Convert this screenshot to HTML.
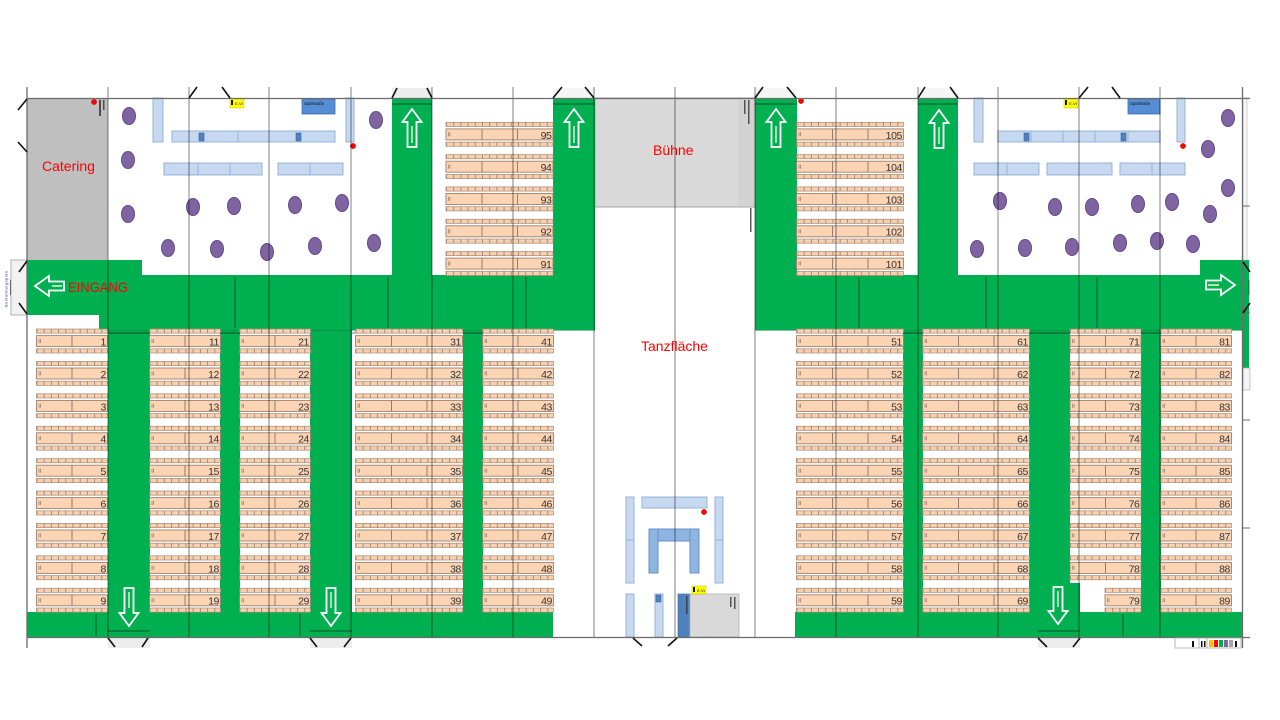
<!DOCTYPE html>
<html><head><meta charset="utf-8"><style>html,body{margin:0;padding:0;background:#fff}svg{display:block}</style></head>
<body>
<svg width="1280" height="720" viewBox="0 0 1280 720">
<defs>
<pattern id="tk" width="7.2" height="6" patternUnits="userSpaceOnUse"><rect width="7.2" height="6" fill="#F7D0AF"/><rect x="0" y="0" width="0.9" height="6" fill="#A4846F"/></pattern>
<g id="T2">
<rect x="0" y="0" width="71" height="4.2" fill="url(#tk)" stroke="#A88B78" stroke-width=".7"/>
<rect x="0" y="6.6" width="71" height="11" fill="#FBD4B4" stroke="#9C8070" stroke-width=".9"/>
<line x1="35.5" y1="6.6" x2="35.5" y2="17.6" stroke="#8C7262" stroke-width=".9"/>
<path d="M2.5,10v4M4,10v4" stroke="#7a6a60" stroke-width=".6"/>
<rect x="0" y="19.8" width="71" height="4.2" fill="url(#tk)" stroke="#A88B78" stroke-width=".7"/>
</g>
<g id="T3">
<rect x="0" y="0" width="107" height="4.2" fill="url(#tk)" stroke="#A88B78" stroke-width=".7"/>
<rect x="0" y="6.6" width="107" height="11" fill="#FBD4B4" stroke="#9C8070" stroke-width=".9"/>
<line x1="36" y1="6.6" x2="36" y2="17.6" stroke="#8C7262" stroke-width=".9"/>
<line x1="71.5" y1="6.6" x2="71.5" y2="17.6" stroke="#8C7262" stroke-width=".9"/>
<path d="M2.5,10v4M4,10v4" stroke="#7a6a60" stroke-width=".6"/>
<rect x="0" y="19.8" width="107" height="4.2" fill="url(#tk)" stroke="#A88B78" stroke-width=".7"/>
</g>
<g id="T1">
<rect x="0" y="0" width="36" height="4.2" fill="url(#tk)" stroke="#A88B78" stroke-width=".7"/>
<rect x="0" y="6.6" width="36" height="11" fill="#FBD4B4" stroke="#9C8070" stroke-width=".9"/>
<path d="M2.5,10v4M4,10v4" stroke="#7a6a60" stroke-width=".6"/>
<rect x="0" y="19.8" width="36" height="4.2" fill="url(#tk)" stroke="#A88B78" stroke-width=".7"/>
</g>
</defs>

<rect width="1280" height="720" fill="#fff"/>

<!-- gray areas -->
<rect x="27" y="98" width="81" height="162" fill="#BFBFBF"/>
<rect x="595" y="98" width="160" height="109" fill="#D9D9D9" stroke="#A6A6A6" stroke-width="1"/>
<rect x="738" y="99" width="16" height="107" fill="#D3D3D3"/>

<!-- green -->
<g fill="#00B050">
<rect x="27" y="260" width="115" height="55"/>
<rect x="99" y="275" width="496" height="55"/>
<rect x="392" y="98" width="40" height="177"/>
<rect x="553" y="98" width="42" height="232"/>
<rect x="108" y="330" width="42" height="282"/>
<rect x="220" y="330" width="20" height="282"/>
<rect x="310" y="330" width="42" height="282"/>
<rect x="463" y="330" width="20" height="282"/>
<rect x="27" y="612" width="526" height="25.5"/>
<rect x="755" y="98" width="42" height="232"/>
<rect x="918" y="98" width="40" height="177"/>
<rect x="755" y="275" width="487" height="55"/>
<rect x="1200" y="260" width="42" height="55"/>
<rect x="1242" y="260" width="7" height="108"/>
<rect x="903" y="330" width="20" height="282"/>
<rect x="1029" y="330" width="41" height="282"/>
<rect x="1141" y="330" width="20" height="282"/>
<rect x="1029" y="583" width="51" height="29"/>
<rect x="795" y="612" width="447" height="25.5"/>
</g>
<path d="M99,330.5H595M755,330.5H1242" stroke="#0a6b35" stroke-width=".8" opacity=".6"/>

<!-- door boxes -->
<rect x="11" y="260" width="16" height="55" fill="#F2F2F2" stroke="#A0A0A0" stroke-width=".8"/>
<rect x="1243" y="368" width="7" height="22" fill="#F4F4F4" stroke="#B0B0B0" stroke-width=".7"/>
<rect x="1243" y="98" width="4" height="162" fill="#F6F6F6" stroke="#B8B8B8" stroke-width=".6"/>
<g fill="#EDEDED">
<rect x="108" y="638" width="42" height="10"/>
<rect x="310" y="638" width="42" height="10"/>
<rect x="1038" y="638" width="42" height="10"/>
<rect x="392" y="88" width="40" height="10"/>
<rect x="553" y="88" width="42" height="10" fill="#F5F5F5"/>
<rect x="755" y="88" width="42" height="10" fill="#F5F5F5"/>
<rect x="918" y="88" width="40" height="10" fill="#F5F5F5"/>
</g>
<text x="0" y="0" transform="translate(7.5,307) rotate(-90)" font-family="Liberation Sans, sans-serif" font-size="4" fill="#1F3D7A" textLength="36">Bestuhlungsplan</text>

<!-- tables -->
<g font-family="Liberation Sans, sans-serif" font-size="10.5" fill="#333" text-anchor="end" letter-spacing="-0.4">
<g transform="translate(36.5,0)">
<use href="#T2" y="329"/><use href="#T2" y="361.4"/><use href="#T2" y="393.8"/><use href="#T2" y="426.2"/><use href="#T2" y="458.6"/><use href="#T2" y="491"/><use href="#T2" y="523.4"/><use href="#T2" y="555.8"/><use href="#T2" y="588.2"/>
<text x="69.5" y="345.5">1</text><text x="69.5" y="377.9">2</text><text x="69.5" y="410.3">3</text><text x="69.5" y="442.7">4</text><text x="69.5" y="475.1">5</text><text x="69.5" y="507.5">6</text><text x="69.5" y="539.9">7</text><text x="69.5" y="572.3">8</text><text x="69.5" y="604.7">9</text>
</g>
<g transform="translate(149.5,0)">
<use href="#T2" y="329"/><use href="#T2" y="361.4"/><use href="#T2" y="393.8"/><use href="#T2" y="426.2"/><use href="#T2" y="458.6"/><use href="#T2" y="491"/><use href="#T2" y="523.4"/><use href="#T2" y="555.8"/><use href="#T2" y="588.2"/>
<text x="69.5" y="345.5">11</text><text x="69.5" y="377.9">12</text><text x="69.5" y="410.3">13</text><text x="69.5" y="442.7">14</text><text x="69.5" y="475.1">15</text><text x="69.5" y="507.5">16</text><text x="69.5" y="539.9">17</text><text x="69.5" y="572.3">18</text><text x="69.5" y="604.7">19</text>
</g>
<g transform="translate(239.5,0)">
<use href="#T2" y="329"/><use href="#T2" y="361.4"/><use href="#T2" y="393.8"/><use href="#T2" y="426.2"/><use href="#T2" y="458.6"/><use href="#T2" y="491"/><use href="#T2" y="523.4"/><use href="#T2" y="555.8"/><use href="#T2" y="588.2"/>
<text x="69.5" y="345.5">21</text><text x="69.5" y="377.9">22</text><text x="69.5" y="410.3">23</text><text x="69.5" y="442.7">24</text><text x="69.5" y="475.1">25</text><text x="69.5" y="507.5">26</text><text x="69.5" y="539.9">27</text><text x="69.5" y="572.3">28</text><text x="69.5" y="604.7">29</text>
</g>
<g transform="translate(355.5,0)">
<use href="#T3" y="329"/><use href="#T3" y="361.4"/><use href="#T3" y="393.8"/><use href="#T3" y="426.2"/><use href="#T3" y="458.6"/><use href="#T3" y="491"/><use href="#T3" y="523.4"/><use href="#T3" y="555.8"/><use href="#T3" y="588.2"/>
<text x="105.5" y="345.5">31</text><text x="105.5" y="377.9">32</text><text x="105.5" y="410.3">33</text><text x="105.5" y="442.7">34</text><text x="105.5" y="475.1">35</text><text x="105.5" y="507.5">36</text><text x="105.5" y="539.9">37</text><text x="105.5" y="572.3">38</text><text x="105.5" y="604.7">39</text>
</g>
<g transform="translate(482.5,0)">
<use href="#T2" y="329"/><use href="#T2" y="361.4"/><use href="#T2" y="393.8"/><use href="#T2" y="426.2"/><use href="#T2" y="458.6"/><use href="#T2" y="491"/><use href="#T2" y="523.4"/><use href="#T2" y="555.8"/><use href="#T2" y="588.2"/>
<text x="69.5" y="345.5">41</text><text x="69.5" y="377.9">42</text><text x="69.5" y="410.3">43</text><text x="69.5" y="442.7">44</text><text x="69.5" y="475.1">45</text><text x="69.5" y="507.5">46</text><text x="69.5" y="539.9">47</text><text x="69.5" y="572.3">48</text><text x="69.5" y="604.7">49</text>
</g>
<g transform="translate(446,0)">
<use href="#T3" y="122.3"/><use href="#T3" y="154.6"/><use href="#T3" y="186.9"/><use href="#T3" y="219.2"/><use href="#T3" y="251.5"/>
<text x="105.5" y="138.8">95</text><text x="105.5" y="171.1">94</text><text x="105.5" y="203.4">93</text><text x="105.5" y="235.7">92</text><text x="105.5" y="268">91</text>
</g>
<g transform="translate(796.5,0)">
<use href="#T3" y="122.3"/><use href="#T3" y="154.6"/><use href="#T3" y="186.9"/><use href="#T3" y="219.2"/><use href="#T3" y="251.5"/>
<text x="105.5" y="138.8">105</text><text x="105.5" y="171.1">104</text><text x="105.5" y="203.4">103</text><text x="105.5" y="235.7">102</text><text x="105.5" y="268">101</text>
</g>
<g transform="translate(796.5,0)">
<use href="#T3" y="329"/><use href="#T3" y="361.4"/><use href="#T3" y="393.8"/><use href="#T3" y="426.2"/><use href="#T3" y="458.6"/><use href="#T3" y="491"/><use href="#T3" y="523.4"/><use href="#T3" y="555.8"/><use href="#T3" y="588.2"/>
<text x="105.5" y="345.5">51</text><text x="105.5" y="377.9">52</text><text x="105.5" y="410.3">53</text><text x="105.5" y="442.7">54</text><text x="105.5" y="475.1">55</text><text x="105.5" y="507.5">56</text><text x="105.5" y="539.9">57</text><text x="105.5" y="572.3">58</text><text x="105.5" y="604.7">59</text>
</g>
<g transform="translate(922.5,0)">
<use href="#T3" y="329"/><use href="#T3" y="361.4"/><use href="#T3" y="393.8"/><use href="#T3" y="426.2"/><use href="#T3" y="458.6"/><use href="#T3" y="491"/><use href="#T3" y="523.4"/><use href="#T3" y="555.8"/><use href="#T3" y="588.2"/>
<text x="105.5" y="345.5">61</text><text x="105.5" y="377.9">62</text><text x="105.5" y="410.3">63</text><text x="105.5" y="442.7">64</text><text x="105.5" y="475.1">65</text><text x="105.5" y="507.5">66</text><text x="105.5" y="539.9">67</text><text x="105.5" y="572.3">68</text><text x="105.5" y="604.7">69</text>
</g>
<g transform="translate(1070,0)">
<use href="#T2" y="329"/><use href="#T2" y="361.4"/><use href="#T2" y="393.8"/><use href="#T2" y="426.2"/><use href="#T2" y="458.6"/><use href="#T2" y="491"/><use href="#T2" y="523.4"/><use href="#T2" y="555.8"/><use href="#T1" x="35" y="588.2"/>
<text x="69.5" y="345.5">71</text><text x="69.5" y="377.9">72</text><text x="69.5" y="410.3">73</text><text x="69.5" y="442.7">74</text><text x="69.5" y="475.1">75</text><text x="69.5" y="507.5">76</text><text x="69.5" y="539.9">77</text><text x="69.5" y="572.3">78</text><text x="69.5" y="604.7">79</text>
</g>
<g transform="translate(1160.5,0)">
<use href="#T2" y="329"/><use href="#T2" y="361.4"/><use href="#T2" y="393.8"/><use href="#T2" y="426.2"/><use href="#T2" y="458.6"/><use href="#T2" y="491"/><use href="#T2" y="523.4"/><use href="#T2" y="555.8"/><use href="#T2" y="588.2"/>
<text x="69.5" y="345.5">81</text><text x="69.5" y="377.9">82</text><text x="69.5" y="410.3">83</text><text x="69.5" y="442.7">84</text><text x="69.5" y="475.1">85</text><text x="69.5" y="507.5">86</text><text x="69.5" y="539.9">87</text><text x="69.5" y="572.3">88</text><text x="69.5" y="604.7">89</text>
</g>
</g>

<!-- blue furniture -->
<g fill="#C6D9F1" stroke="#95B3D7" stroke-width="1">
<rect x="153" y="98" width="10" height="44"/>
<rect x="172" y="131" width="163" height="11"/>
<rect x="346" y="98" width="8" height="44"/>
<rect x="164" y="163" width="98" height="12"/>
<rect x="278" y="163" width="65" height="12"/>
<rect x="974" y="98" width="9" height="44"/>
<rect x="998" y="131" width="162" height="11"/>
<rect x="1177" y="98" width="8" height="44"/>
<rect x="974" y="163" width="65" height="12"/>
<rect x="1047" y="163" width="65" height="12"/>
<rect x="1120" y="163" width="65" height="12"/>
<rect x="626" y="497" width="8" height="86"/>
<rect x="642" y="497" width="65" height="11"/>
<rect x="715" y="497" width="8" height="86"/>
<rect x="626" y="594" width="8" height="43"/>
<rect x="655" y="594" width="8" height="43"/>
</g>
<path d="M238,131V142M198,163V175M230,163V175M310,163V175M1031,131V142M1063,131V142M1095,131V142M1128,131V142M1007,163V175M1152,163V175M626,540H634M715,540H723" stroke="#95B3D7" stroke-width="1"/>
<path d="M649,529H699V573H690V541H658V573H649Z" fill="#8DB4E2" stroke="#6A90C4" stroke-width="1"/>
<path d="M658,529V541M690,529V541" stroke="#6A90C4" stroke-width="1"/>
<g fill="#4F81BD" stroke="#3A679E" stroke-width=".6">
<rect x="199" y="133" width="5" height="8"/>
<rect x="296" y="133" width="5" height="8"/>
<rect x="1024" y="133" width="5" height="8"/>
<rect x="1121" y="133" width="5" height="8"/>
<rect x="656" y="595" width="5" height="7"/>
<rect x="678" y="594" width="12" height="43"/>
</g>
<rect x="690" y="594" width="49" height="43" fill="#D9D9D9" stroke="#B5B5B5" stroke-width=".8"/>
<g fill="#558ED5" stroke="#3C6CA8" stroke-width=".8">
<rect x="302" y="99" width="33" height="15"/>
<rect x="1128" y="99" width="32" height="15"/>
</g>
<g font-family="Liberation Sans, sans-serif" font-size="4.2" fill="#111">
<text x="304" y="105">Spülstraße</text>
<text x="1130" y="105">Spülstraße</text>
</g>
<g fill="#FFFF00" stroke="#C8C800" stroke-width=".5">
<rect x="230" y="99" width="14" height="9"/>
<rect x="1064" y="99" width="14" height="9"/>
<rect x="692" y="586" width="14" height="8"/>
</g>
<g font-family="Liberation Sans, sans-serif" font-size="4" fill="#111">
<text x="235" y="105">E-Vt</text><text x="1069" y="105">E-Vt</text><text x="697" y="592">E-Vt</text>
</g>
<g fill="#111"><rect x="231" y="100" width="2" height="5"/><rect x="1065" y="100" width="2" height="5"/><rect x="693" y="587" width="2" height="5"/></g>
<g fill="#FF0000" stroke="#C00000" stroke-width=".5">
<circle cx="94" cy="102" r="2.6"/><circle cx="353" cy="146" r="2.6"/><circle cx="801" cy="101" r="2.6"/><circle cx="1183" cy="146" r="2.6"/><circle cx="704" cy="512" r="2.6"/>
</g>
<!-- small vertical labels -->
<g fill="#333" opacity=".8">
<rect x="99" y="100" width="2" height="16"/><rect x="103" y="100" width="1.5" height="10"/>
<rect x="744" y="100" width="1.5" height="14"/><rect x="748" y="100" width="1.5" height="24"/>
<rect x="750" y="208" width="1.5" height="24"/>
<rect x="686" y="596" width="1.5" height="18"/>
<rect x="730" y="597" width="1.5" height="10"/><rect x="734" y="597" width="1.5" height="12"/>
</g>

<!-- purple circles -->
<g fill="#8064A2" stroke="#5F4B8B" stroke-width="1">
<ellipse cx="129" cy="116" rx="6.5" ry="8.5"/>
<ellipse cx="128" cy="160" rx="6.5" ry="8.5"/>
<ellipse cx="128" cy="214" rx="6.5" ry="8.5"/>
<ellipse cx="193" cy="207" rx="6.5" ry="8.5"/>
<ellipse cx="234" cy="206" rx="6.5" ry="8.5"/>
<ellipse cx="295" cy="205" rx="6.5" ry="8.5"/>
<ellipse cx="342" cy="203" rx="6.5" ry="8.5"/>
<ellipse cx="168" cy="248" rx="6.5" ry="8.5"/>
<ellipse cx="217" cy="249" rx="6.5" ry="8.5"/>
<ellipse cx="267" cy="252" rx="6.5" ry="8.5"/>
<ellipse cx="315" cy="246" rx="6.5" ry="8.5"/>
<ellipse cx="374" cy="243" rx="6.5" ry="8.5"/>
<ellipse cx="376" cy="120" rx="6.5" ry="8.5"/>
<ellipse cx="1000" cy="201" rx="6.5" ry="8.5"/>
<ellipse cx="1055" cy="207" rx="6.5" ry="8.5"/>
<ellipse cx="1092" cy="207" rx="6.5" ry="8.5"/>
<ellipse cx="1138" cy="204" rx="6.5" ry="8.5"/>
<ellipse cx="1172" cy="202" rx="6.5" ry="8.5"/>
<ellipse cx="1228" cy="118" rx="6.5" ry="8.5"/>
<ellipse cx="1208" cy="149" rx="6.5" ry="8.5"/>
<ellipse cx="1228" cy="188" rx="6.5" ry="8.5"/>
<ellipse cx="1210" cy="214" rx="6.5" ry="8.5"/>
<ellipse cx="977" cy="249" rx="6.5" ry="8.5"/>
<ellipse cx="1025" cy="248" rx="6.5" ry="8.5"/>
<ellipse cx="1072" cy="247" rx="6.5" ry="8.5"/>
<ellipse cx="1120" cy="243" rx="6.5" ry="8.5"/>
<ellipse cx="1157" cy="241" rx="6.5" ry="8.5"/>
<ellipse cx="1193" cy="244" rx="6.5" ry="8.5"/>
</g>

<!-- arrows -->
<g fill="none" stroke="#fff" stroke-width="1.8" stroke-linejoin="miter">
<path d="M412,109L421.5,122L416.5,122L416.5,147L407.5,147L407.5,122L402.5,122Z"/>
<path d="M574,109L583.5,122L578.5,122L578.5,147L569.5,147L569.5,122L564.5,122Z"/>
<path d="M776,109L785.5,122L780.5,122L780.5,147L771.5,147L771.5,122L766.5,122Z"/>
<path d="M939,110L948.5,123L943.5,123L943.5,148L934.5,148L934.5,123L929.5,123Z"/>
<path d="M124.5,588L133.5,588L133.5,613L138.5,613L129,626L119.5,613L124.5,613Z"/>
<path d="M326.5,588L335.5,588L335.5,613L340.5,613L331,626L321.5,613L326.5,613Z"/>
<path d="M1053.5,587L1062.5,587L1062.5,611L1067.5,611L1058,624L1048.5,611L1053.5,611Z"/>
<path d="M35,286L49,276L49,281.5L64,281.5L64,290.5L49,290.5L49,296Z"/>
<path d="M1235,285L1221,275L1221,280.5L1206,280.5L1206,289.5L1221,289.5L1221,295Z"/>
</g>
<g stroke="#E8F8D0" stroke-width="1.4">
<path d="M412,126V143M574,126V143M776,126V143M939,127V144M129,592V608M331,592V608M1058,591V607M52,286H62M1208,285H1219"/>
</g>

<!-- dimension lines -->
<g stroke="#111" stroke-width=".7" fill="none" opacity=".8">
<path d="M235,277V328M388,277V328M526,277V328M859,277V328M986,277V328M1097,277V328M96,614V636M300,614V636M1123,614V636"/>
<path d="M392,104H432M553,104H595M755,104H797M918,104H958M108,631H150M310,631H352M1038,631H1080M10.5,280V295M1249,280V295"/>
<path d="M108,333H150M220,333H240M352,333H355M463,333H483M903,333H923M1029,333H1070M1141,333H1161"/>
</g>

<!-- grid lines -->
<path d="M108,87V638M189,87V638M269,87V638M351,87V638M432,87V638M513,87V638M594,87V638M675,87V638M755,87V638M836,87V638M918,87V638M998,87V638M1079,87V638M1160,87V638" stroke="#000" stroke-opacity=".45" stroke-width="1.1"/>

<!-- walls -->
<path d="M27,98.5H1250M27,637.5H1250M27,87V648M1242.5,87V648" stroke="#6b6b6b" stroke-width="1.3" fill="none"/>
<path d="M1243,206H1250M1243,313H1250M1243,420H1250M1243,528H1250" stroke="#6b6b6b" stroke-width="1"/>

<!-- door swings -->
<path d="M197,87L189,98M222,87L230,98M397,88L392,98M427,88L432,98M562,87L553,98M585,87L594,98M763,87L755,98M787,87L796,98M925,87L918,98M950,87L958,98M1088,87L1079,98M1112,87L1120,98M108,638L115,647M148,638L142,647M310,638L317,647M351,638L344,647M633,638L642,646M677,638L668,646M1038,638L1047,647M1080,638L1073,647M27,99L18,110M18,142L27,152M27,261L19,272M19,303L27,314M1243,262L1250,272M1250,303L1243,313" stroke="#111" stroke-width="1.6" fill="none"/>

<!-- legend -->
<rect x="1175" y="638" width="66" height="10" fill="#fff" stroke="#A6A6A6" stroke-width=".8"/>
<path d="M1199,638V648M1207,638V648" stroke="#A6A6A6" stroke-width=".8"/>
<g>
<rect x="1192" y="641" width="2" height="6" fill="#111"/>
<rect x="1201" y="641" width="1.5" height="6" fill="#111"/><rect x="1204" y="641" width="1.5" height="6" fill="#111"/>
<rect x="1209" y="640" width="4" height="7" fill="#FFC000"/>
<rect x="1214" y="640" width="4" height="7" fill="#FF0000"/>
<rect x="1219" y="640" width="4" height="7" fill="#00B050"/>
<rect x="1224" y="640" width="4" height="7" fill="#8064A2"/>
<rect x="1229" y="640" width="4" height="7" fill="#A6A6A6"/>
<rect x="1235" y="641" width="2" height="6" fill="#111"/>
</g>

<!-- labels -->
<g font-family="Liberation Sans, sans-serif" fill="#FF0000" font-size="14">
<text x="42" y="171">Catering</text>
<text x="68" y="292" textLength="60" lengthAdjust="spacingAndGlyphs">EINGANG</text>
<text x="653" y="155">Bühne</text>
<text x="641" y="351">Tanzfläche</text>
</g>
</svg>
</body></html>
